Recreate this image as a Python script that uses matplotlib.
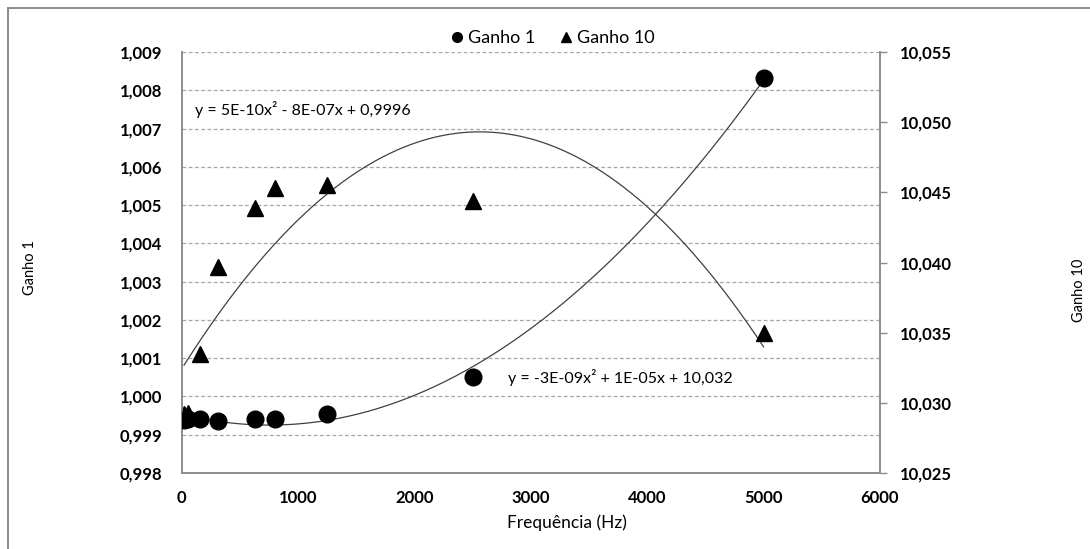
"""
Ganho 1 e Ganho 10 vs frequência, com linhas de tendência polinomiais.
"""

import matplotlib
matplotlib.use("Agg")
import matplotlib.pyplot as plt
from matplotlib.lines import Line2D
from matplotlib.patches import Rectangle
from matplotlib.ticker import FuncFormatter, MultipleLocator
import numpy as np

plt.rcParams["font.family"] = ["Lato", "DejaVu Sans"]

# data
freq = [20, 50, 160, 315, 630, 800, 1250, 2500, 5000]
ganho1 = [0.99939, 0.99940, 0.99940, 0.99937, 0.99940, 0.99940, 0.99954, 1.00052, 1.00832]
ganho10 = [10.0292, 10.0293, 10.0335, 10.0397, 10.0439, 10.0453, 10.0455, 10.0444, 10.0350]

eq1_text = "y = 5E-10x² - 8E-07x + 0,9996"
eq10_text = "y = -3E-09x² + 1E-05x + 10,032"

GRID = "#a6a6a6"
AXIS = "#8c8c8c"


def comma(fmt):
    return FuncFormatter(lambda v, _: fmt.format(v).replace(".", ","))


fig = plt.figure(figsize=(10.9, 5.49), dpi=100)
ax = fig.add_axes([0.1667, 0.1384, 0.6406, 0.7667])
ax2 = ax.twinx()
ax.set_zorder(ax2.get_zorder() + 1)
ax.patch.set_visible(False)

# outer chart border (cropped on right/bottom in the reference)
fig.patches.append(Rectangle((8 / 1090, -0.05), 1.2, 1 - 8 / 549 + 0.05,
                             transform=fig.transFigure, fill=False,
                             edgecolor="#8a8a8a", lw=1.4))

ax.set_xlim(0, 6000)
ax.set_ylim(0.998, 1.009)
ax2.set_ylim(10.025, 10.055)
ax.xaxis.set_major_locator(MultipleLocator(1000))
ax.yaxis.set_major_locator(MultipleLocator(0.001))
ax2.yaxis.set_major_locator(MultipleLocator(0.005))
ax.yaxis.set_major_formatter(comma("{:.3f}"))
ax2.yaxis.set_major_formatter(comma("{:.3f}"))
ax.xaxis.set_major_formatter(comma("{:.0f}"))

# gridlines follow the left axis but sit under everything
for t in np.arange(0.999, 1.0095, 0.001):
    ax2.plot([0, 1], [t, t], transform=ax.get_yaxis_transform(),
             color=GRID, lw=0.9, ls=(0, (3, 2)), zorder=0)

# polynomial trend lines (order 2), drawn from min to max x
xs = np.linspace(min(freq), max(freq), 300)
p1 = np.polyfit(freq, ganho1, 2)
p10 = np.polyfit(freq, ganho10, 2)
ax.plot(xs, np.polyval(p1, xs), color="#404040", lw=0.9, zorder=2)
ax2.plot(xs, np.polyval(p10, xs), color="#404040", lw=0.9, zorder=2)

ax2.plot(freq, ganho10, ls="none", marker="^", ms=12, color="black", zorder=3)
ax.plot(freq, ganho1, ls="none", marker="o", ms=12, color="black", zorder=3)

for a in (ax, ax2):
    a.spines["top"].set_visible(False)
    for s in ("left", "right", "bottom"):
        a.spines[s].set_color(AXIS)
        a.spines[s].set_linewidth(1.2)

ax.tick_params(axis="y", length=0, pad=14, labelsize=12)
ax.tick_params(axis="x", length=0, pad=12, labelsize=12)
ax2.tick_params(axis="y", length=5, width=1, color=AXIS, pad=9, labelsize=12)
for lab in ax.get_xticklabels() + ax.get_yticklabels() + ax2.get_yticklabels():
    lab.set_fontweight("bold")

ax.text(195 / 1090, 1 - 110 / 549, eq1_text, transform=fig.transFigure,
        fontsize=11.5, va="center", ha="left")
ax.text(508 / 1090, 1 - 378 / 549, eq10_text, transform=fig.transFigure,
        fontsize=11.5, va="center", ha="left")

fig.text(30 / 1090, 1 - 268 / 549, "Ganho 1", rotation=90, fontsize=10.5,
         ha="center", va="center")
fig.text(1079 / 1090, 1 - 290 / 549, "Ganho 10", rotation=90, fontsize=10.5,
         ha="center", va="center")
fig.text(567 / 1090, 1 - 523 / 549, "Frequência (Hz)", fontsize=12.5,
         ha="center", va="center")

handles = [
    Line2D([], [], ls="none", marker="o", ms=7, color="black", label="Ganho 1"),
    Line2D([], [], ls="none", marker="^", ms=7, color="black", label="Ganho 10"),
]
fig.legend(handles=handles, loc="center", bbox_to_anchor=(551 / 1090, 1 - 38 / 549),
           ncol=2, frameon=False, fontsize=13, handletextpad=0.1,
           columnspacing=1.2, handlelength=1.0)

fig.savefig("out.png", dpi=100)
plt.close(fig)
